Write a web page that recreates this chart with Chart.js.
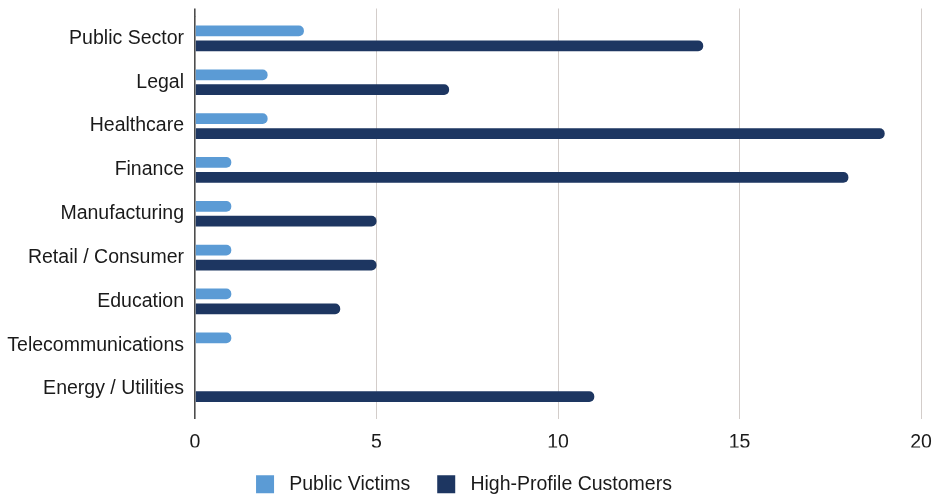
<!DOCTYPE html>
<html>
<head>
<meta charset="utf-8">
<script src="https://cdn.jsdelivr.net/npm/chart.js@4/dist/chart.umd.min.js"></script>
<style>
  html, body { margin: 0; padding: 0; background: #fff; }
  #wrap { width: 934px; height: 499px; }
</style>
</head>
<body>
<div id="wrap"><canvas id="chartSectors"></canvas></div>
<script>
const sectors = [
  'Public Sector', 'Legal', 'Healthcare', 'Finance', 'Manufacturing',
  'Retail / Consumer', 'Education', 'Telecommunications', 'Energy / Utilities'
];
const publicVictims = [3, 2, 2, 1, 1, 1, 1, 1, 0];
const highProfileCustomers = [14, 7, 19, 18, 5, 5, 4, 0, 11];
const xTicks = [0, 5, 10, 15, 20];

const FONT = 'Liberation Sans, Arial, sans-serif';
const gridColor = c => (c.tick && c.tick.value === 0) ? '#4d4d4d' : '#d3cdca';
const gridWidth = c => (c.tick && c.tick.value === 0) ? 1.6 : 1;

const ctx = document.getElementById('chartSectors').getContext('2d');
new Chart(ctx, {
  type: 'bar',
  data: {
    labels: sectors,
    datasets: [{
      label: 'Public Victims',
      data: publicVictims,
      backgroundColor: '#5b9bd5',
      borderRadius: 5,
      categoryPercentage: 0.68,
      barPercentage: 0.72
    }, {
      label: 'High-Profile Customers',
      data: highProfileCustomers,
      backgroundColor: '#1d3661',
      borderRadius: 5,
      categoryPercentage: 0.68,
      barPercentage: 0.72
    }]
  },
  options: {
    indexAxis: 'y',
    responsive: true,
    maintainAspectRatio: false,
    animation: false,
    layout: { padding: { left: 7, right: 13, top: 8.5, bottom: -5 } },
    plugins: {
      legend: {
        position: 'bottom',
        labels: {
          font: { family: FONT, size: 19.5, lineHeight: '18px' },
          color: '#1a1a1a',
          boxWidth: 18,
          boxHeight: 18,
          padding: 27,
          generateLabels: chart => Chart.defaults.plugins.legend.labels.generateLabels(chart)
            .map(item => ({ ...item, text: ' ' + item.text }))
        }
      },
      tooltip: { enabled: false }
    },
    scales: {
      x: {
        min: 0,
        max: 20,
        afterBuildTicks: s => { s.ticks = xTicks.map(v => ({ value: v })); },
        ticks: {
          font: { family: FONT, size: 19.5 },
          color: '#1a1a1a',
          padding: 11.5
        },
        grid: { color: gridColor, tickColor: gridColor, lineWidth: gridWidth, tickLength: 8 },
        border: { display: false },
        afterFit: s => { s.height = 36.5; s.paddingLeft = 0; s.paddingRight = 0; }
      },
      x2: {
        position: 'top',
        min: 0,
        max: 20,
        afterBuildTicks: s => { s.ticks = xTicks.map(v => ({ value: v })); },
        ticks: { display: false },
        grid: { drawOnChartArea: false, color: gridColor, tickColor: gridColor, lineWidth: gridWidth, tickLength: 8 },
        border: { display: false },
        afterFit: s => { s.height = 8; s.paddingLeft = 0; s.paddingRight = 0; }
      },
      y: {
        ticks: {
          font: { family: FONT, size: 19.5 },
          color: '#1a1a1a',
          padding: 11
        },
        grid: { display: false, drawTicks: false },
        border: { display: false },
        afterFit: s => { s.width = 188; s.paddingTop = 0; s.paddingBottom = 0; }
      }
    }
  }
});
</script>
</body>
</html>
